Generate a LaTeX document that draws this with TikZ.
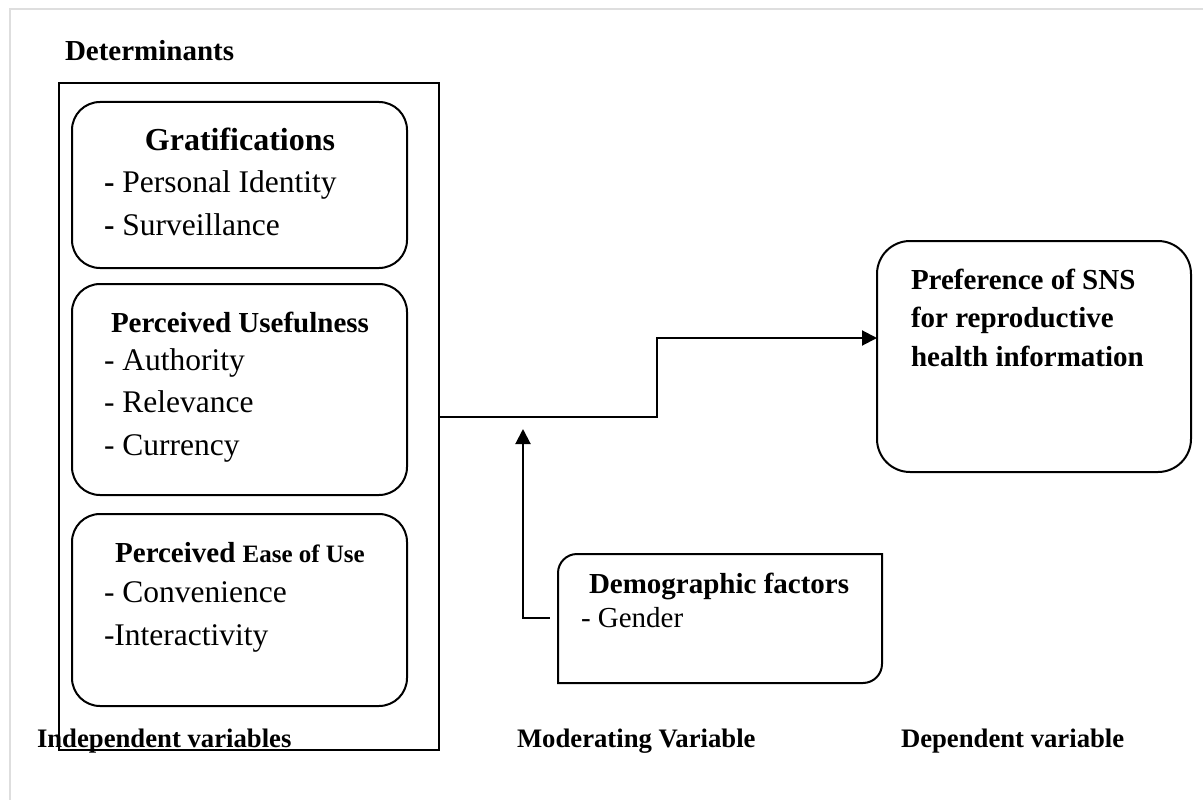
\documentclass[tikz,border=0pt]{standalone}
\usepackage{fontspec}
\setmainfont{Liberation Serif}
\usetikzlibrary{
  arrows.meta,
  chains,
  scopes
}

\begin{document}
\begin{tikzpicture}[
      x=1pt, y=-1pt,
      factor/.style={
         rectangle,
         rounded corners=28pt,
         draw,
         anchor=north west,
         inner sep=0pt, outer sep=0pt,
         minimum width=335pt
      },
      frame box/.style={
         rectangle,
         anchor=north west,
         inner sep=0pt, outer sep=0pt
      },
      heading/.style={
         anchor=base,
         inner sep=0pt,
         font=\fontsize{29}{35}\selectfont\bfseries
      },
      entry/.style={
         anchor=base west,
         inner sep=0pt,
         font=\fontsize{31.5}{38}\selectfont
      },
      caption/.style={
         anchor=base west,
         inner sep=0pt,
         font=\fontsize{26.7}{32}\selectfont\bfseries
      },
      point/.style={coordinate},>={Triangle[length=15pt,width=15pt]},line width=2pt,
      tip/.style={->},every join/.style={line cap=rect},
      hv path/.style={to path={-| (\tikztotarget)}},
      vh path/.style={to path={|- (\tikztotarget)}}
    ]
    \useasboundingbox (0,0) rectangle (1203,800);
    \draw[black!13] (10,800) -- (10,9) -- (1203,9);

    % determinants
    \node (det) [heading, anchor=base west] at (64,61) {Determinants};
    \node (indep) [frame box, draw, minimum width=380pt, minimum height=667pt] at (59,83) {};

    \node (grat) [factor, minimum height=166pt] at (72,102) {};
    \node (grat head) [heading, font=\fontsize{32}{38}\selectfont\bfseries] at (240,150) {Gratifications};
    \node (grat a) [entry] at (103,192) {\textbf{-} Personal Identity};
    \node (grat b) [entry] at (103,235) {\textbf{-} Surveillance};

    \node (useful) [factor, minimum height=211pt] at (72,284) {};
    \node (useful head) [heading] at (240,332) {Perceived Usefulness};
    \node (useful a) [entry] at (103,370) {- Authority};
    \node (useful b) [entry] at (103,412) {- Relevance};
    \node (useful c) [entry] at (103,455) {- Currency};

    \node (ease) [factor, minimum height=192pt] at (72,514) {};
    \node (ease head) [heading] at (240,562) {Perceived {\fontsize{25}{30}\selectfont Ease of Use}};
    \node (ease a) [entry] at (103,602) {- Convenience};
    \node (ease b) [entry] at (103,645) {-Interactivity};

    % outcome
    \node (pref) [factor, minimum width=314pt, minimum height=231pt, rounded corners=33pt] at (877,241) {};
    \node (pref text) [heading, anchor=base west, align=left, font=\fontsize{29}{38.5}\selectfont\bfseries] at (910,366) {Preference of SNS\\for reproductive\\health information};

    % moderator
    \node (demo) [frame box, minimum width=324pt, minimum height=129pt] at (558,554) {};
    \draw ([yshift=-19pt]demo.north west)
          .. controls ([yshift=-8.5pt]demo.north west) and ([xshift=8.5pt]demo.north west) .. ([xshift=19pt]demo.north west)
          -- (demo.north east) -- ([yshift=19pt]demo.south east)
          .. controls ([yshift=8.5pt]demo.south east) and ([xshift=-8.5pt]demo.south east) .. ([xshift=-19pt]demo.south east)
          -- (demo.south west) -- cycle;
    \node (demo head) [heading, anchor=base west] at (588,593) {Demographic factors};
    \node (demo a) [entry, font=\fontsize{29}{35}\selectfont] at (580,627) {- Gender};

    \node (cap indep) [caption] at (36,747) {Independent variables};
    \node (cap mod) [caption] at (516,747) {Moderating Variable};
    \node (cap dep) [caption] at (900,747) {Dependent variable};

    \node (n_out) [point] at (indep.east |- 0,417) {};
    \node (n_step) [point] at (657,417) {};
    \node (n_in) [point] at (pref.west |- 0,338) {};
    \node (n_demo) [point] at (549,618) {};
    \node (n_mod) [point] at (523,429) {};

  { [start chain]
       \chainin (n_out);
       \chainin (n_step)    [join];
  }
  { [start chain]
       \chainin (n_step);
       \chainin (n_in)      [join=by {vh path,tip}];
  }
  { [start chain]
       \chainin (n_demo);
       \chainin (n_mod)     [join=by {hv path,tip}];
  }
\end{tikzpicture}
\end{document}
